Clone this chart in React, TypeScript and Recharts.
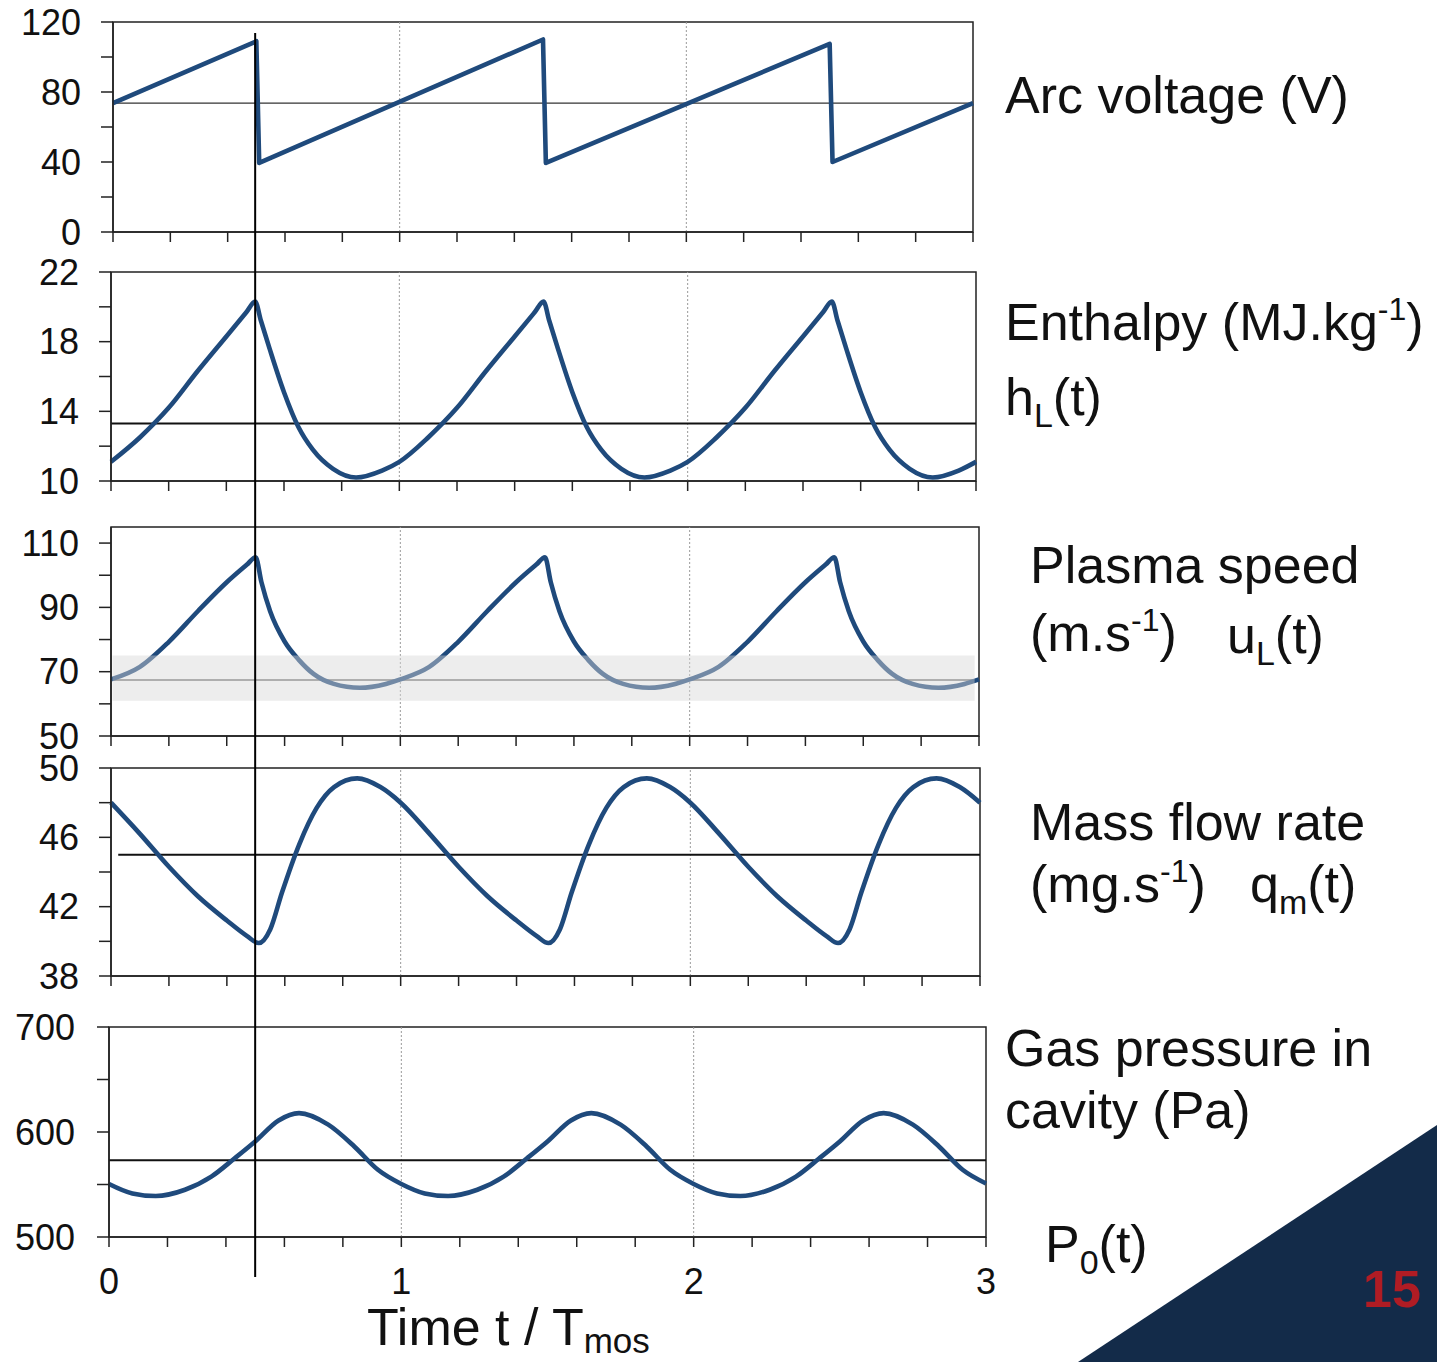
import React from "react";
import { LineChart, Line, XAxis, YAxis, ReferenceLine, ReferenceArea } from "recharts";

const FONT = "'Liberation Sans', Arial, Helvetica, sans-serif";
const NAVY = "#1f4a7c";
const AXIS = "#222";

// time axis, t / Tmos
const timeTicks = [0, 0.2, 0.4, 0.6, 0.8, 1, 1.2, 1.4, 1.6, 1.8, 2, 2.2, 2.4, 2.6, 2.8, 3];
const timeLabels = [0, 1, 2, 3];
const gridTimes = [1, 2];
const markerTime = 0.5;

// arc voltage (V)
const voltageT = [0, 0.5, 0.51, 1.5, 1.51, 2.5, 2.51, 3];
const voltageV = [73.7, 109, 39.5, 110, 39.5, 107.5, 40, 73.7];
const voltageTicks = [0, 20, 40, 60, 80, 100, 120];
const voltageLabels = [0, 40, 80, 120];
const voltageMean = 73.7;

// enthalpy (MJ/kg)
const enthalpyT = [
  0, 0.1, 0.2, 0.3, 0.4, 0.47, 0.5, 0.52, 0.55, 0.6, 0.65, 0.7, 0.77, 0.85, 0.94,
  1, 1.1, 1.2, 1.3, 1.4, 1.47, 1.5, 1.52, 1.55, 1.6, 1.65, 1.7, 1.77, 1.85, 1.94,
  2, 2.1, 2.2, 2.3, 2.4, 2.47, 2.5, 2.52, 2.55, 2.6, 2.65, 2.7, 2.77, 2.85, 2.94, 3,
];
const enthalpyV = [
  11.1, 12.5, 14.2, 16.3, 18.3, 19.7, 20.3, 19.2, 17.6, 15.1, 13.1, 11.8, 10.7, 10.2, 10.6,
  11.1, 12.5, 14.2, 16.3, 18.3, 19.7, 20.3, 19.2, 17.6, 15.1, 13.1, 11.8, 10.7, 10.2, 10.6,
  11.1, 12.5, 14.2, 16.3, 18.3, 19.7, 20.3, 19.2, 17.6, 15.1, 13.1, 11.8, 10.7, 10.2, 10.6, 11.1,
];
const enthalpyTicks = [10, 12, 14, 16, 18, 20, 22];
const enthalpyLabels = [10, 14, 18, 22];
const enthalpyMean = 13.3;

// plasma speed (m/s)
const speedT = [
  0, 0.1, 0.2, 0.3, 0.4, 0.47, 0.5, 0.52, 0.55, 0.6, 0.65, 0.7, 0.77, 0.86, 0.95,
  1, 1.1, 1.2, 1.3, 1.4, 1.47, 1.5, 1.52, 1.55, 1.6, 1.65, 1.7, 1.77, 1.86, 1.95,
  2, 2.1, 2.2, 2.3, 2.4, 2.47, 2.5, 2.52, 2.55, 2.6, 2.65, 2.7, 2.77, 2.86, 2.95, 3,
];
const speedV = [
  67.6, 71.5, 79.3, 88.8, 97.8, 103.3, 105.6, 97.8, 88.8, 79.4, 73.6, 69.3, 66.2, 65, 66.2,
  67.6, 71.5, 79.3, 88.8, 97.8, 103.3, 105.6, 97.8, 88.8, 79.4, 73.6, 69.3, 66.2, 65, 66.2,
  67.6, 71.5, 79.3, 88.8, 97.8, 103.3, 105.6, 97.8, 88.8, 79.4, 73.6, 69.3, 66.2, 65, 66.2, 67.6,
];
const speedTicks = [50, 60, 70, 80, 90, 100, 110];
const speedLabels = [50, 70, 90, 110];
const speedMean = 67.4;
const speedBand: [number, number] = [61, 75];

// mass flow rate (mg/s)
const flowT = [
  0, 0.1, 0.2, 0.3, 0.4, 0.47, 0.51, 0.55, 0.59, 0.65, 0.71, 0.77, 0.85, 0.93,
  1, 1.1, 1.2, 1.3, 1.4, 1.47, 1.51, 1.55, 1.59, 1.65, 1.71, 1.77, 1.85, 1.93,
  2, 2.1, 2.2, 2.3, 2.4, 2.47, 2.51, 2.55, 2.59, 2.65, 2.71, 2.77, 2.85, 2.93, 3,
];
const flowV = [
  48, 46.2, 44.3, 42.6, 41.2, 40.3, 39.9, 40.7, 42.8, 45.6, 47.7, 48.9, 49.4, 48.9,
  48, 46.2, 44.3, 42.6, 41.2, 40.3, 39.9, 40.7, 42.8, 45.6, 47.7, 48.9, 49.4, 48.9,
  48, 46.2, 44.3, 42.6, 41.2, 40.3, 39.9, 40.7, 42.8, 45.6, 47.7, 48.9, 49.4, 48.9, 48,
];
const flowTicks = [38, 40, 42, 44, 46, 48, 50];
const flowLabels = [38, 42, 46, 50];
const flowMean = 45;

// gas pressure in cavity (Pa)
const pressureT = [
  0, 0.08, 0.16, 0.26, 0.35, 0.43, 0.5, 0.58, 0.65, 0.75, 0.84, 0.92,
  1, 1.08, 1.16, 1.26, 1.35, 1.43, 1.5, 1.58, 1.65, 1.75, 1.84, 1.92,
  2, 2.08, 2.16, 2.26, 2.35, 2.43, 2.5, 2.58, 2.65, 2.75, 2.84, 2.92, 3,
];
const pressureV = [
  550.5, 541.5, 539, 545, 557.5, 575, 591, 611, 618, 607, 586, 564,
  550.5, 541.5, 539, 545, 557.5, 575, 591, 611, 618, 607, 586, 564,
  550.5, 541.5, 539, 545, 557.5, 575, 591, 611, 618, 607, 586, 564, 551,
];
const pressureTicks = [500, 550, 600, 650, 700];
const pressureLabels = [500, 600, 700];
const pressureMean = 573;

const zip = (t: number[], v: number[]) => t.map((x, i) => ({ t: x, v: v[i] }));

type Box = { left: number; right: number; top: number; bottom: number };

type PanelProps = {
  data: { t: number; v: number }[];
  domain: [number, number];
  yTicks: number[];
  yLabels: number[];
  box: Box;
  curve: "linear" | "monotone";
  mean: number;
  meanColor?: string;
  meanWidth?: number;
  meanFrom?: number;
  band?: [number, number];
  showX?: boolean;
  yMargin?: number;
};

const PAD = 20;
const BOTTOM = 70;

const Panel: React.FC<PanelProps> = ({
  data, domain, yTicks, yLabels, box, curve, mean,
  meanColor = "#111", meanWidth = 2, meanFrom = 0, band, showX = false, yMargin = 20,
}) => {
  const w = box.right + PAD;
  const h = box.bottom - box.top + PAD + BOTTOM;
  return (
    <div style={{ position: "absolute", left: 0, top: box.top - PAD, width: w, height: h }}>
      <LineChart width={w} height={h} data={data} margin={{ top: PAD, right: PAD, left: 0, bottom: BOTTOM - 60 }}>
        <XAxis
          type="number"
          dataKey="t"
          domain={[0, 3]}
          ticks={timeTicks}
          interval={0}
          height={60}
          tickSize={10}
          tickMargin={21}
          stroke={AXIS}
          strokeWidth={1.5}
          tick={{ fontSize: 36, fill: "#111", fontFamily: FONT }}
          tickFormatter={(x: number) => (showX && timeLabels.includes(x) ? String(x) : "")}
        />
        <YAxis
          type="number"
          domain={domain}
          ticks={yTicks}
          interval={0}
          width={box.left}
          tickSize={12}
          tickMargin={yMargin}
          stroke={AXIS}
          strokeWidth={1.5}
          tick={{ fontSize: 36, fill: "#111", fontFamily: FONT }}
          tickFormatter={(y: number) => (yLabels.includes(y) ? String(y) : "")}
        />
        {gridTimes.map((g) => (
          <ReferenceLine key={g} x={g} stroke="#9a9a9a" strokeDasharray="2 2" strokeWidth={1} />
        ))}
        <ReferenceArea x1={0} x2={3} y1={domain[0]} y2={domain[1]} fill="none" stroke={AXIS} strokeWidth={1.5} />
        <ReferenceLine
          segment={[{ x: meanFrom, y: mean }, { x: 3, y: mean }]}
          stroke={meanColor}
          strokeWidth={meanWidth}
        />
        <Line
          type={curve}
          dataKey="v"
          stroke={NAVY}
          strokeWidth={4.6}
          strokeLinejoin="round"
          dot={false}
          isAnimationActive={false}
        />
        {band && (
          <ReferenceArea
            x1={0.005}
            x2={2.985}
            y1={band[0]}
            y2={band[1]}
            fill="#d6d6d6"
            fillOpacity={0.45}
            stroke="none"
            zIndex={1000}
          />
        )}
      </LineChart>
    </div>
  );
};

const panelTop: Box = { left: 113, right: 973, top: 22, bottom: 232 };
const panelEnthalpy: Box = { left: 111, right: 976, top: 272, bottom: 481 };
const panelSpeed: Box = { left: 111, right: 979, top: 527, bottom: 736 };
const panelFlow: Box = { left: 111, right: 980, top: 768, bottom: 976 };
const panelPressure: Box = { left: 109, right: 986, top: 1027, bottom: 1237 };

const Label: React.FC<{ x: number; y: number; children: React.ReactNode; size?: number }> = ({ x, y, children, size = 52 }) => (
  <text x={x} y={y} fontSize={size} fill="#111" fontFamily={FONT}>
    {children}
  </text>
);

export default function App() {
  const markerX = panelPressure.left + (markerTime / 3) * (panelPressure.right - panelPressure.left);
  return (
    <div style={{ position: "absolute", left: 0, top: 0, width: 1437, height: 1362, background: "#fff", overflow: "hidden" }}>
      <Panel data={zip(voltageT, voltageV)} domain={[0, 120]} yTicks={voltageTicks} yLabels={voltageLabels}
        box={panelTop} curve="linear" mean={voltageMean} meanColor="#333" meanWidth={1.3} />
      <Panel data={zip(enthalpyT, enthalpyV)} domain={[10, 22]} yTicks={enthalpyTicks} yLabels={enthalpyLabels}
        box={panelEnthalpy} curve="monotone" mean={enthalpyMean} />
      <Panel data={zip(speedT, speedV)} domain={[50, 115]} yTicks={speedTicks} yLabels={speedLabels}
        box={panelSpeed} curve="monotone" mean={speedMean} meanColor="#666" meanWidth={1.5} band={speedBand} />
      <Panel data={zip(flowT, flowV)} domain={[38, 50]} yTicks={flowTicks} yLabels={flowLabels}
        box={panelFlow} curve="monotone" mean={flowMean} meanFrom={0.025} />
      <Panel data={zip(pressureT, pressureV)} domain={[500, 700]} yTicks={pressureTicks} yLabels={pressureLabels}
        box={panelPressure} curve="monotone" mean={pressureMean} showX yMargin={22} />

      <svg width={1437} height={1362} style={{ position: "absolute", left: 0, top: 0, pointerEvents: "none" }}>
        <line x1={markerX} x2={markerX} y1={33} y2={1277} stroke="#000" strokeWidth={2} />
        <polygon points="1078,1362 1437,1125 1437,1362" fill="#132b49" />
        <text x={1363} y={1307} fontSize={52} fontWeight="bold" fill="#b01c24" fontFamily={FONT}>15</text>

        <Label x={1005} y={113}>Arc voltage (V)</Label>
        <Label x={1005} y={340}>
          Enthalpy (MJ.kg<tspan fontSize={32} dy={-20}>-1</tspan><tspan dy={20}>)</tspan>
        </Label>
        <Label x={1005} y={415}>
          h<tspan fontSize={34} dy={12}>L</tspan><tspan dy={-12}>(t)</tspan>
        </Label>
        <Label x={1030} y={583}>Plasma speed</Label>
        <Label x={1030} y={651}>
          (m.s<tspan fontSize={32} dy={-20}>-1</tspan><tspan dy={20}>)</tspan>
        </Label>
        <Label x={1227} y={653}>
          u<tspan fontSize={34} dy={12}>L</tspan><tspan dy={-12}>(t)</tspan>
        </Label>
        <Label x={1030} y={840}>Mass flow rate</Label>
        <Label x={1030} y={902}>
          (mg.s<tspan fontSize={32} dy={-20}>-1</tspan><tspan dy={20}>)</tspan>
        </Label>
        <Label x={1250} y={902}>
          q<tspan fontSize={34} dy={12}>m</tspan><tspan dy={-12}>(t)</tspan>
        </Label>
        <Label x={1005} y={1066}>Gas pressure in</Label>
        <Label x={1005} y={1128}>cavity (Pa)</Label>
        <Label x={1045} y={1262}>
          P<tspan fontSize={34} dy={12}>0</tspan><tspan dy={-12}>(t)</tspan>
        </Label>
        <Label x={367} y={1345}>
          Time t / T<tspan fontSize={35} dy={8}>mos</tspan>
        </Label>
      </svg>
    </div>
  );
}
